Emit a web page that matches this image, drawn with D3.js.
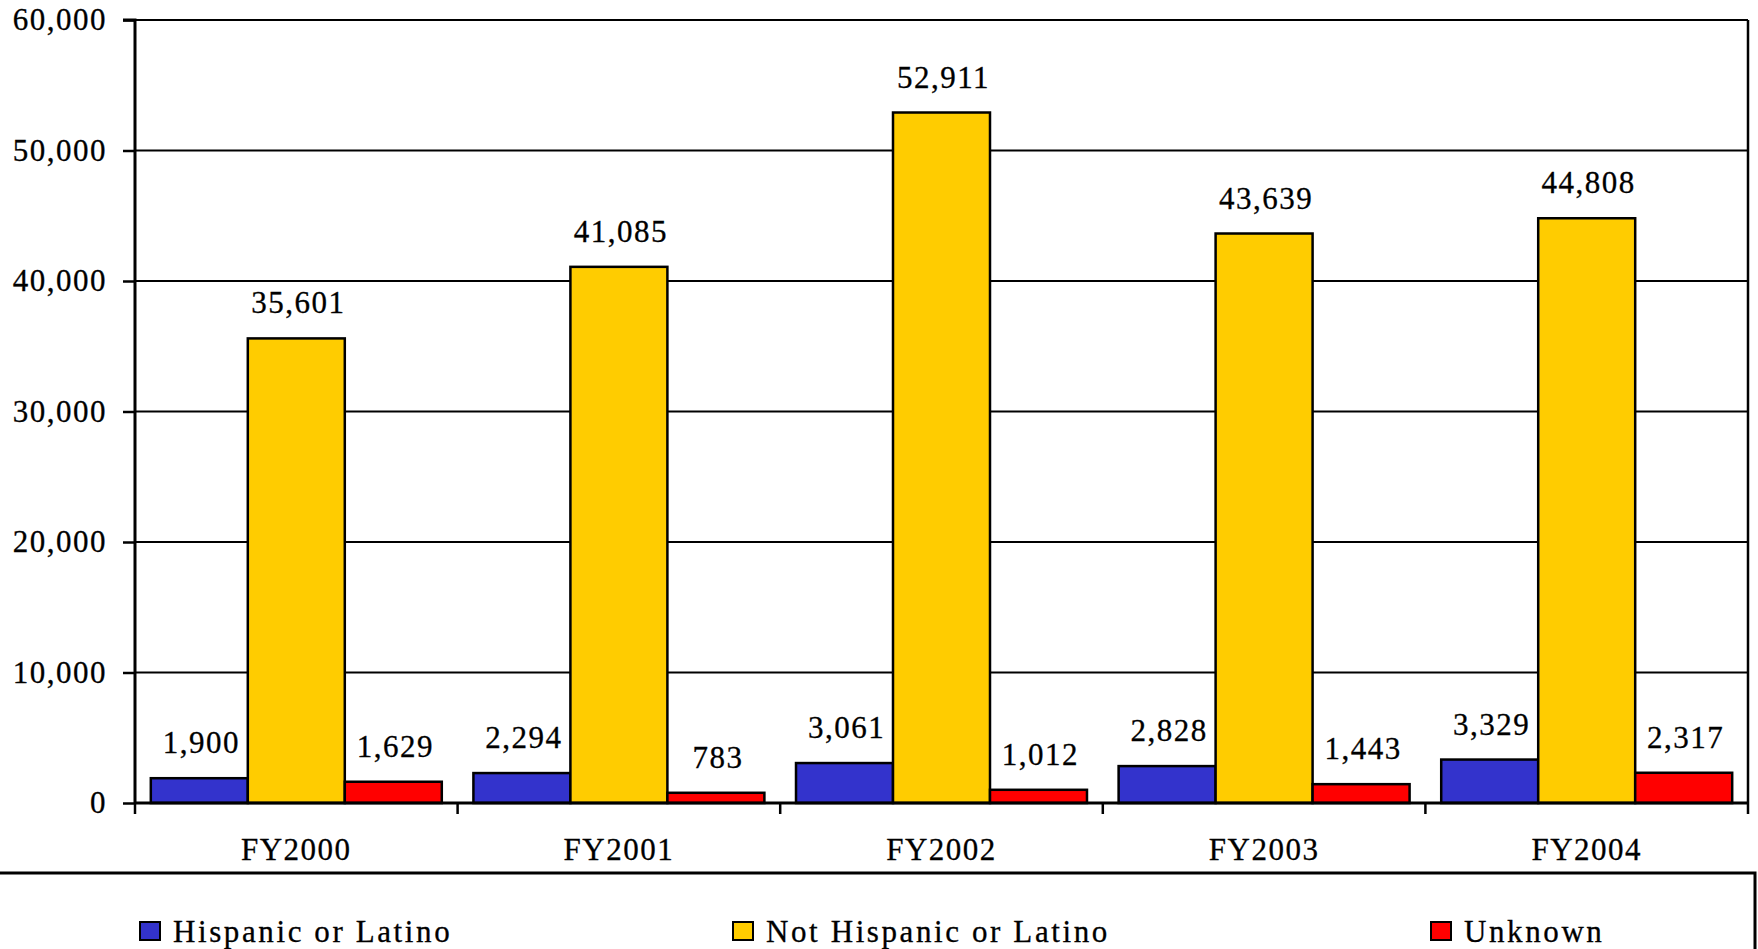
<!DOCTYPE html>
<html><head><meta charset="utf-8">
<script src="https://cdn.jsdelivr.net/npm/d3@7"></script>
<style>
html,body{margin:0;padding:0;background:#fff;overflow:hidden}
svg{display:block}
text{font-family:"Liberation Serif","Times New Roman",serif;fill:#000}
</style></head>
<body>
<svg id="chart" width="1758" height="949"></svg>
<script>
const categories = ["FY2000","FY2001","FY2002","FY2003","FY2004"];
const seriesNames = ["Hispanic or Latino","Not Hispanic or Latino","Unknown"];
const hispanic = [1900, 2294, 3061, 2828, 3329];
const notHispanic = [35601, 41085, 52911, 43639, 44808];
const unknown = [1629, 783, 1012, 1443, 2317];
const yTicks = [0, 10000, 20000, 30000, 40000, 50000, 60000];
const colors = ["#3333CC", "#FFCC00", "#FF0000"];

(function () {
const seriesValues = [hispanic, notHispanic, unknown];
const svg = d3.select("#chart");
const pL = 135, pR = 1748, pT = 20, pB = 803;
const FONT = "Liberation Serif, Times New Roman, serif";

const x0 = d3.scaleBand().domain(categories).range([pL, pR]).paddingInner(0).paddingOuter(0);
const x1 = d3.scaleBand().domain(seriesNames).range([0, x0.bandwidth()]).paddingInner(0).paddingOuter(0.163);
const y = d3.scaleLinear().domain([0, 60000]).range([pB, pT]);
const fmt = d3.format(",");

// gridlines
svg.append("g").selectAll("line").data(yTicks.filter(d => d > 0)).join("line")
  .attr("x1", pL).attr("x2", pR)
  .attr("y1", d => y(d)).attr("y2", d => y(d))
  .attr("stroke", "#000").attr("stroke-width", 2);
// right border
svg.append("line").attr("x1", pR).attr("x2", pR).attr("y1", pT).attr("y2", pB)
  .attr("stroke", "#000").attr("stroke-width", 2.5);

// bars
const data = [];
categories.forEach((c, i) => seriesNames.forEach((s, j) => data.push({c, s, j, v: seriesValues[j][i]})));
const g = svg.append("g");
g.selectAll("rect").data(data).join("rect")
  .attr("x", d => x0(d.c) + x1(d.s))
  .attr("y", d => y(d.v))
  .attr("width", x1.bandwidth())
  .attr("height", d => pB - y(d.v))
  .attr("fill", d => colors[d.j])
  .attr("stroke", "#000").attr("stroke-width", 2.5);

// value labels
g.selectAll("text").data(data).join("text")
  .attr("x", d => x0(d.c) + x1(d.s) + x1.bandwidth() / 2 + 2)
  .attr("y", d => y(d.v) - 25)
  .attr("text-anchor", "middle")
  .attr("font-size", 31).attr("letter-spacing", "1.5px")
  .attr("stroke", "#000").attr("stroke-width", 0.3)
  .text(d => fmt(d.v));

// y axis
const yAxis = d3.axisLeft(y).tickValues(yTicks).tickFormat(fmt).tickSize(12).tickPadding(16);
const ya = svg.append("g").attr("transform", `translate(${pL},0)`).call(yAxis);
ya.select(".domain").attr("stroke", "#000").attr("stroke-width", 3).attr("d", `M-12,${pT}H0V${pB}`);
ya.selectAll(".tick line").attr("stroke", "#000").attr("stroke-width", 2.5);
ya.selectAll(".tick text").attr("font-size", 31).attr("letter-spacing", "1.5px")
  .attr("font-family", FONT).attr("fill", "#000").attr("stroke", "#000").attr("stroke-width", 0.3);

// x axis
const xAxis = d3.axisBottom(x0).tickSize(0).tickPadding(35);
const xa = svg.append("g").attr("transform", `translate(0,${pB})`).call(xAxis);
xa.select(".domain").attr("stroke", "#000").attr("stroke-width", 3).attr("d", `M${pL},0H${pR}`);
xa.selectAll(".tick text").attr("font-size", 31).attr("letter-spacing", "1.5px")
  .attr("font-family", FONT).attr("fill", "#000").attr("stroke", "#000").attr("stroke-width", 0.3);
// category boundary ticks
const bounds = categories.map(c => x0(c)).concat([pR]);
svg.append("g").selectAll("line").data(bounds).join("line")
  .attr("x1", d => d).attr("x2", d => d).attr("y1", pB).attr("y2", pB + 11)
  .attr("stroke", "#000").attr("stroke-width", 2.5);

// legend
svg.append("rect").attr("x", -3).attr("y", 873).attr("width", 1758).attr("height", 100)
  .attr("fill", "none").attr("stroke", "#000").attr("stroke-width", 3);
const legendX = [140, 733, 1431];
const lg = svg.append("g").selectAll("g").data(seriesNames).join("g")
  .attr("transform", (d, i) => `translate(${legendX[i]},922)`);
lg.append("rect").attr("width", 20).attr("height", 18)
  .attr("fill", (d, i) => colors[i]).attr("stroke", "#000").attr("stroke-width", 2);
lg.append("text").attr("x", 33).attr("y", 20).attr("font-size", 31).attr("letter-spacing", "2.6px")
  .attr("stroke", "#000").attr("stroke-width", 0.3)
  .text(d => d);
})();
</script>
</body></html>
